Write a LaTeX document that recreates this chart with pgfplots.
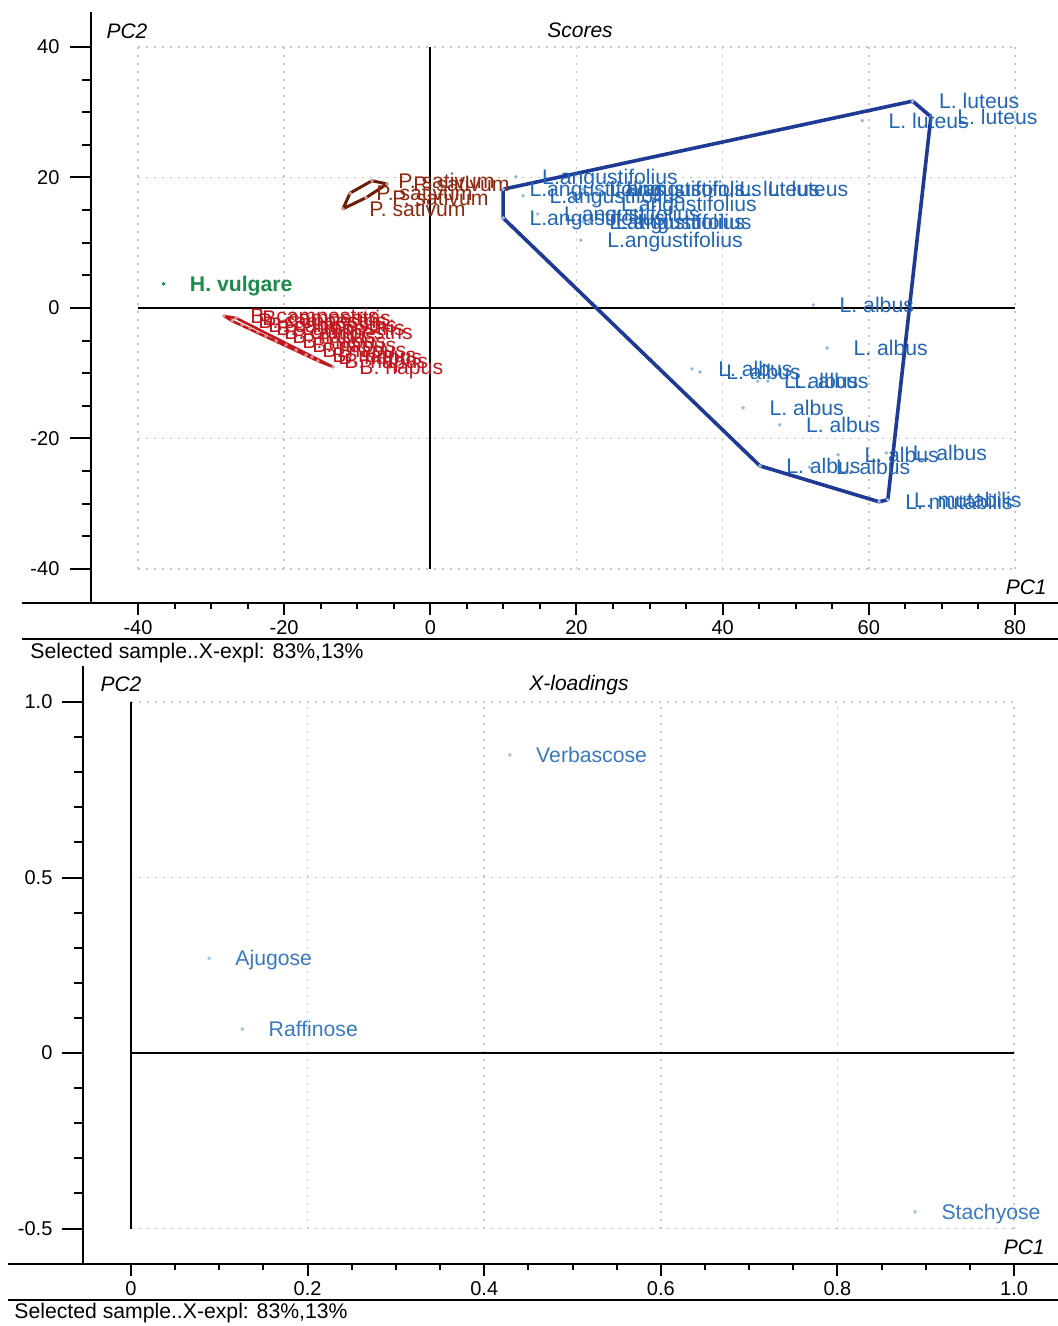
\documentclass[border=0pt]{standalone}
\usepackage{fontspec}
\setmainfont{Liberation Sans}
\usepackage{pgfplots}
\pgfplotsset{compat=1.18}
\definecolor{blueT}{HTML}{2365B5}
\definecolor{blueH}{HTML}{1E3A94}
\definecolor{brownT}{HTML}{8E2A12}
\definecolor{brownH}{HTML}{6A1C08}
\definecolor{redT}{HTML}{C0181E}
\definecolor{greenT}{HTML}{1C8A4A}
\definecolor{blueL}{HTML}{3A78C0}
\definecolor{gridc}{HTML}{C4C4C4}
\newcommand\tickfont{\fontsize{10}{12}\selectfont}
\newcommand\labfont{\fontsize{10.6}{12}\selectfont}
\newcommand\selfont{\fontsize{10.6}{12}\selectfont}
\newcommand\ttlfont{\fontsize{10.5}{12}\selectfont\itshape}
\pgfplotsset{
  pts/.style n args={3}{only marks, mark=*, mark size=0.7pt, color=#1,
    mark options={draw=none, fill=#1},
    nodes near coords={#3},
    every node near coord/.append style={anchor=base west, xshift=13pt, yshift=-3.8pt,
      inner sep=0pt, text=#2, font=\labfont}},
  gridl/.style={no marks, gridc, line width=0.8pt, dash pattern=on 0.8pt off 3.2pt},
  zerol/.style={no marks, black, line width=0.9pt},
  myaxis/.style={
    anchor=south west, scale only axis, clip=false,
    axis lines*=left,
    axis line style={line width=1pt, black},
    tick align=outside,
    xtick style={black, line width=1pt, /pgfplots/major tick length=6pt, /pgfplots/minor tick length=3pt},
    ytick style={black, line width=1pt, /pgfplots/major tick length=10.5pt, /pgfplots/minor tick length=4.5pt},
    ticklabel style={font=\tickfont},
    xticklabel style={yshift=-1pt},
  }
}
\begin{document}
\begin{tikzpicture}
\useasboundingbox (0,0) rectangle (529pt,663pt);
% ---------------- Scores ----------------
\begin{axis}[myaxis,
  at={(45.5pt,361.5pt)}, width=483.5pt, height=295.5pt,
  xmin=-46.43, xmax=85.89, ymin=-45.21, ymax=45.36,
  xtick={-40,-20,0,20,40,60,80}, xticklabels={-40,-20,0,20,40,60,80},
  ytick={-40,-20,0,20,40}, yticklabels={-40,-20,0,20,40},
  minor x tick num=3, minor y tick num=3,
  yticklabel style={xshift=-8pt},
]
\addplot[gridl] coordinates {(-40,-40) (-40,40)};
\addplot[gridl] coordinates {(-20,-40) (-20,40)};
\addplot[gridl] coordinates {(20,-40) (20,40)};
\addplot[gridl] coordinates {(40,-40) (40,40)};
\addplot[gridl] coordinates {(60,-40) (60,40)};
\addplot[gridl] coordinates {(80,-40) (80,40)};
\addplot[gridl] coordinates {(-40,-40) (80,-40)};
\addplot[gridl] coordinates {(-40,-20) (80,-20)};
\addplot[gridl] coordinates {(-40,20) (80,20)};
\addplot[gridl] coordinates {(-40,40) (80,40)};
\addplot[zerol] coordinates {(-40,0) (80,0)};
\addplot[zerol] coordinates {(0,-40) (0,40)};
% hulls
\addplot[no marks, blueH, line width=1.8pt, line join=round] coordinates {
 (9.96,18.2) (66.0,31.7) (68.5,29.3) (62.6,-29.4) (61.4,-29.7) (45.1,-24.2) (9.96,13.8) (9.96,18.2)};
\addplot[no marks, brownH, line width=1.5pt, line join=round] coordinates {
 (-11.95,15.2) (-10.99,17.6) (-7.98,19.5) (-5.93,19.0) (-8.80,16.9) (-11.95,15.2)};
\addplot[no marks, redT, line width=1.3pt, line join=round] coordinates {
 (-28.23,-1.23) (-26.59,-1.53) (-13.31,-9.04) (-15.37,-8.12) (-27.13,-1.99) (-28.23,-1.23)};
% points
\addplot[pts={blueT!45}{blueT}{L. luteus}] coordinates {
 (66.0,31.7) (68.5,29.3) (59.1,28.7) (38.7,18.2) (42.6,18.2)};
\addplot[pts={blueT!45}{blueT}{L.angustifolius}] coordinates {
 (11.7,20.1) (9.96,18.2) (12.7,17.2) (20.9,18.2) (23.2,18.2) (22.5,15.9)
 (9.96,13.8) (14.7,14.4) (20.9,13.2) (21.8,13.2) (20.6,10.4)};
\addplot[pts={blueT!45}{blueT}{L. albus}] coordinates {
 (52.4,0.46) (54.3,-6.13) (35.8,-9.35) (36.9,-9.8) (44.8,-11.2) (46.2,-11.2)
 (42.8,-15.3) (47.8,-17.9) (45.1,-24.2) (51.9,-24.4) (55.8,-22.5) (62.4,-22.2)};
\addplot[pts={blueT!45}{blueT}{L. mutabilis}] coordinates {
 (61.4,-29.7) (62.6,-29.4)};
\addplot[pts={brownT!45}{brownT}{P. sativum}] coordinates {
 (-11.95,15.2) (-10.99,17.6) (-7.98,19.5) (-5.93,19.0) (-8.80,16.9)};
\addplot[pts={greenT}{greenT}{\bfseries H. vulgare}] coordinates {(-36.5,3.7)};
\addplot[pts={redT!45}{redT}{B. campestris}] coordinates {
 (-28.23,-1.23) (-26.59,-1.53) (-27.13,-1.99) (-25.77,-2.61) (-24.67,-3.07) (-23.58,-3.68)};
\addplot[pts={redT!45}{redT}{B. napus}] coordinates {
 (-22.48,-4.29) (-21.11,-5.06) (-19.74,-5.67) (-18.37,-6.44) (-17.01,-7.20)
 (-15.37,-8.12) (-13.31,-9.04) (-16.19,-7.51)};
\end{axis}
% ---------------- X-loadings ----------------
\begin{axis}[myaxis,
  at={(41.5pt,31pt)}, width=487.5pt, height=299pt,
  xmin=-0.0544, xmax=1.0498, ymin=-0.601, ymax=1.1026,
  xtick={0,0.2,0.4,0.6,0.8,1.0}, xticklabels={0,0.2,0.4,0.6,0.8,1.0},
  ytick={-0.5,0,0.5,1.0}, yticklabels={-0.5,0,0.5,1.0},
  minor x tick num=3, minor y tick num=4,
  yticklabel style={xshift=-7.5pt},
]
\addplot[gridl] coordinates {(0.2,-0.5) (0.2,1)};
\addplot[gridl] coordinates {(0.4,-0.5) (0.4,1)};
\addplot[gridl] coordinates {(0.6,-0.5) (0.6,1)};
\addplot[gridl] coordinates {(0.8,-0.5) (0.8,1)};
\addplot[gridl] coordinates {(1.0,-0.5) (1.0,1)};
\addplot[gridl] coordinates {(0,-0.5) (1,-0.5)};
\addplot[gridl] coordinates {(0,0.5) (1,0.5)};
\addplot[gridl] coordinates {(0,1) (1,1)};
\addplot[zerol] coordinates {(0,0) (1,0)};
\addplot[zerol] coordinates {(0,-0.5) (0,1)};
\addplot[pts={blueL!45}{blueL}{Verbascose}] coordinates {(0.429,0.849)};
\addplot[pts={blueL!45}{blueL}{Ajugose}] coordinates {(0.0883,0.270)};
\addplot[pts={blueL!45}{blueL}{Raffinose}] coordinates {(0.126,0.068)};
\addplot[pts={blueL!45}{blueL}{Stachyose}] coordinates {(0.888,-0.452)};
\end{axis}
% frame lines and texts
\draw[line width=1pt] (11pt,361.5pt) -- (529pt,361.5pt);
\draw[line width=1pt] (11pt,343.5pt) -- (529pt,343.5pt);
\draw[line width=1pt] (4pt,31pt) -- (529pt,31pt);
\draw[line width=1pt] (4pt,13pt) -- (529pt,13pt);
\node[anchor=west, font=\selfont, inner sep=0pt] at (15pt,336.5pt) {Selected sample..X-expl: 83\%,13\%};
\node[anchor=west, font=\selfont, inner sep=0pt] at (7pt,6.5pt) {Selected sample..X-expl: 83\%,13\%};
\node[font=\ttlfont, inner sep=0pt] at (63.5pt,647.5pt) {PC2};
\node[font=\ttlfont, inner sep=0pt] at (290pt,648pt) {Scores};
\node[font=\ttlfont, inner sep=0pt, anchor=east] at (523.5pt,369.5pt) {PC1};
\node[font=\ttlfont, inner sep=0pt] at (60.5pt,321pt) {PC2};
\node[font=\ttlfont, inner sep=0pt] at (289.5pt,320.5pt) {X-loadings};
\node[font=\ttlfont, inner sep=0pt, anchor=east] at (522.5pt,39.5pt) {PC1};
\end{tikzpicture}
\end{document}
